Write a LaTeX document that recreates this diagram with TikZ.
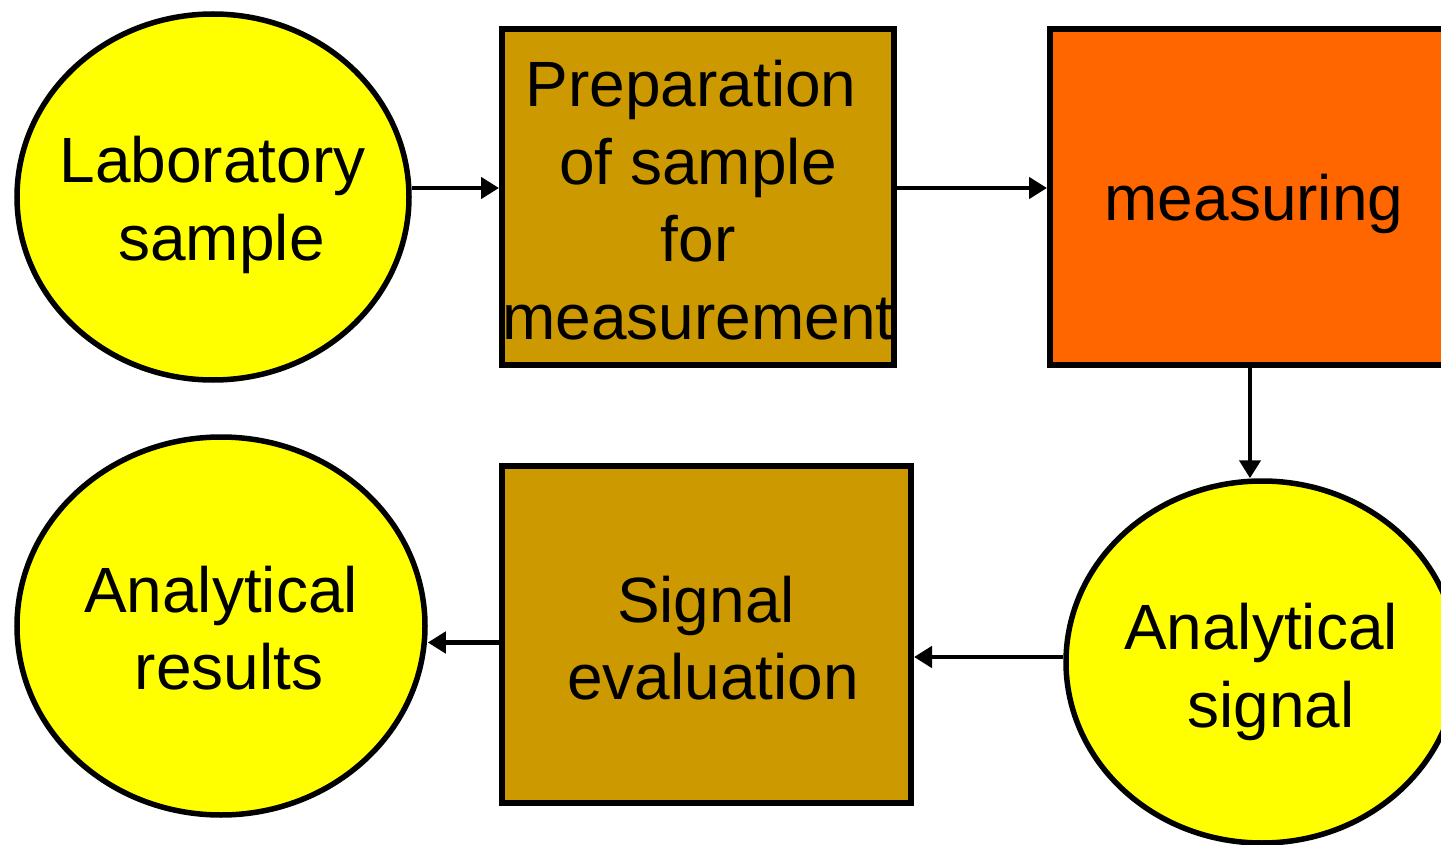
\documentclass[tikz,border=0pt]{standalone}
\usepackage{fontspec}
\setmainfont{Liberation Sans}
\usetikzlibrary{arrows.meta,shapes.geometric}

\definecolor{sampleyellow}{HTML}{FFFF00}
\definecolor{prepbrown}{HTML}{CC9900}
\definecolor{measorange}{HTML}{FF6600}

\tikzset{
  blob/.style={ellipse, draw=black, line width=5.5pt, fill=sampleyellow, inner sep=0pt},
  stepbox/.style={rectangle, draw=black, line width=6pt, inner sep=0pt},
  label text/.style={align=center, inner sep=0pt, font=\fontsize{64}{77.5}\selectfont},
  flow/.style={draw=black, line width=4.5pt, -{Triangle[length=18pt,width=21pt]}}
}

\begin{document}
\begin{tikzpicture}[x=1pt,y=-1pt]
  \clip (0,0) rectangle (1441,845);
  \fill[white] (0,0) rectangle (1441,845);

  % shapes
  \node[blob, minimum width=392pt, minimum height=366pt] (lab) at (213,197) {};
  \node[stepbox, fill=prepbrown, minimum width=392pt, minimum height=336pt] (prep) at (698,197) {};
  \node[stepbox, fill=measorange, minimum width=412pt, minimum height=336pt] (meas) at (1256,197) {};
  \node[blob, minimum width=392pt, minimum height=362pt] (sig) at (1262,662) {};
  \node[stepbox, fill=prepbrown, minimum width=409pt, minimum height=337pt] (eval) at (706.5,634.5) {};
  \node[blob, minimum width=408pt, minimum height=378pt] (res) at (221,626) {};

  % texts
  \node[label text] (labT) at (217,205) {Laboratory\hspace*{9pt}\null\\ \hspace*{9pt}sample};
  \node[label text] (prepT) at (698,200) {Preparation\hspace*{14pt}\null\\ of sample\\ for\\ measurement};
  \node[label text] (measT) at (1254,204) {measuring};
  \node[label text] (sigT) at (1266,672) {Analytical\hspace*{10pt}\null\\ \hspace*{10pt}signal};
  \node[label text] (evalT) at (712,638) {Signal\hspace*{12pt}\null\\ \hspace*{2pt}evaluation};
  \node[label text] (resT) at (225,628) {Analytical\hspace*{8pt}\null\\ \hspace*{8pt}results};

  % connectors
  \draw[flow] ([yshift=9pt]lab.east) -- ([yshift=9pt]prep.west);
  \draw[flow] ([yshift=9pt]prep.east) -- ([yshift=9pt]meas.west);
  \coordinate (measOut) at (1250,368);
  \draw[flow] (measOut) -- (measOut |- sig.north);
  \draw[flow] ([yshift=5pt]sig.west) -- ([yshift=5pt]sig.west -| eval.east);
  \draw[flow] ([yshift=-8pt]eval.west) -- ([yshift=-8pt]eval.west -| res.east);
\end{tikzpicture}
\end{document}
